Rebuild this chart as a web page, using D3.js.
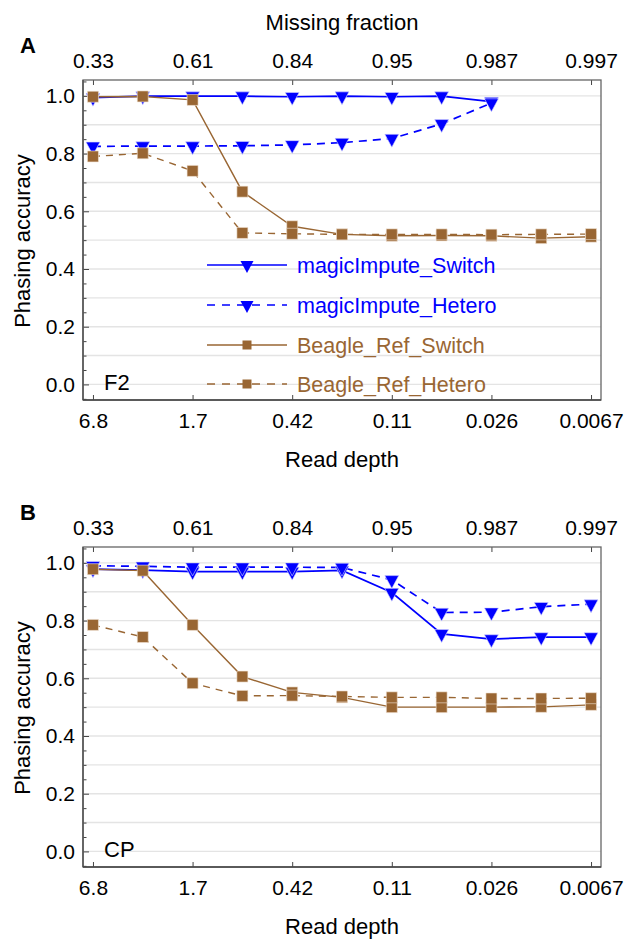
<!DOCTYPE html>
<html>
<head>
<meta charset="utf-8">
<script src="https://cdn.jsdelivr.net/npm/d3@7"></script>
<style>
  body { margin: 0; background: #fff; }
  svg { display: block; }
  text { font-family: "Liberation Sans", Arial, Helvetica, sans-serif; }
</style>
</head>
<body>
<svg id="chart" width="626" height="942"></svg>
<script>
// ---------- data ----------
const pointIndex = [0, 1, 2, 3, 4, 5, 6, 7, 8, 9, 10];
const tickIndex = [0, 2, 4, 6, 8, 10];
const readDepthLabels = ["6.8", "1.7", "0.42", "0.11", "0.026", "0.0067"];
const missingFractionLabels = ["0.33", "0.61", "0.84", "0.95", "0.987", "0.997"];
const yMajorTicks = [0, 0.2, 0.4, 0.6, 0.8, 1.0];
const seriesNames = ["magicImpute_Switch", "magicImpute_Hetero", "Beagle_Ref_Switch", "Beagle_Ref_Hetero"];

// Panel A (F2)
const f2MagicSwitch  = [0.994, 0.999, 0.999, 0.999, 0.997, 0.999, 0.997, 0.999, 0.980];
const f2MagicHetero  = [0.825, 0.826, 0.826, 0.827, 0.830, 0.838, 0.852, 0.903, 0.975];
const f2BeagleSwitch = [0.997, 0.998, 0.986, 0.668, 0.548, 0.520, 0.515, 0.516, 0.515, 0.507, 0.512];
const f2BeagleHetero = [0.790, 0.801, 0.740, 0.525, 0.522, 0.520, 0.520, 0.520, 0.519, 0.520, 0.521];

// Panel B (CP)
const cpMagicSwitch  = [0.978, 0.975, 0.970, 0.970, 0.970, 0.974, 0.897, 0.754, 0.736, 0.743, 0.743];
const cpMagicHetero  = [0.990, 0.988, 0.985, 0.985, 0.985, 0.984, 0.941, 0.828, 0.829, 0.848, 0.857];
const cpBeagleSwitch = [0.978, 0.973, 0.785, 0.606, 0.551, 0.534, 0.500, 0.500, 0.500, 0.501, 0.508];
const cpBeagleHetero = [0.785, 0.743, 0.583, 0.539, 0.540, 0.537, 0.534, 0.534, 0.530, 0.530, 0.531];

// ---------- styling ----------
const BLUE = "#0000ff";
const BROWN = "#996633";
const seriesStyle = [
  { color: BLUE,  dash: null,  marker: "tri", width: 1.7 },
  { color: BLUE,  dash: "8,6", marker: "tri", width: 1.7 },
  { color: BROWN, dash: null,  marker: "sq",  width: 1.4 },
  { color: BROWN, dash: "7,6", marker: "sq",  width: 1.4 }
];

const svg = d3.select("#chart");
const X0 = 83, X1 = 601;
const x = d3.scaleLinear().domain([-0.2, 10.2]).range([X0, X1]);

function markerPath(type, cx, cy, s) {
  if (type === "tri") {
    const w = s, h = s * 0.92;
    return `M${cx - w / 2},${cy - h / 3}L${cx + w / 2},${cy - h / 3}L${cx},${cy + 2 * h / 3}Z`;
  }
  return `M${cx - s / 2},${cy - s / 2}h${s}v${s}h${-s}Z`;
}

function drawPanel(offset, series, letter, tag, withTitle, legend) {
  const top = 80 + offset, bottom = 400 + offset;
  const y = d3.scaleLinear().domain([-0.054, 1.055]).range([bottom, top]);
  const g = svg.append("g");

  // gridlines
  const gridVals = d3.range(0, 11).map(d => d / 10);
  g.append("g").selectAll("line").data(gridVals).join("line")
    .attr("x1", X0).attr("x2", X1)
    .attr("y1", d => y(d)).attr("y2", d => y(d))
    .attr("stroke", "#e4e4e4").attr("stroke-width", 1.4);

  // minor y ticks
  const minorVals = d3.range(-1, 22).map(d => d * 0.05).filter(d => Math.abs(Math.round(d * 5) - d * 5) > 1e-6);
  const yMinor = g.append("g").attr("transform", `translate(${X0},0)`)
    .call(d3.axisLeft(y).tickValues(minorVals).tickSize(-3.5).tickFormat(""));
  yMinor.select(".domain").remove();
  yMinor.selectAll("line").attr("stroke", "#444");

  // major y ticks
  const yAx = g.append("g").attr("transform", `translate(${X0},0)`)
    .call(d3.axisLeft(y).tickValues(yMajorTicks).tickSize(-6).tickPadding(8).tickFormat(d3.format(".1f")));
  yAx.select(".domain").remove();
  yAx.selectAll("line").attr("stroke", "#444");
  yAx.selectAll("text").attr("font-size", 21).attr("fill", "#000")
    .attr("font-family", "Liberation Sans, Arial, sans-serif");

  // bottom axis
  const xb = g.append("g").attr("transform", `translate(0,${bottom})`)
    .call(d3.axisBottom(x).tickValues(tickIndex).tickSize(-5).tickPadding(13)
      .tickFormat((d, i) => readDepthLabels[i]));
  xb.select(".domain").remove();
  xb.selectAll("line").attr("stroke", "#444");
  xb.selectAll("text").attr("font-size", 21).attr("fill", "#000")
    .attr("font-family", "Liberation Sans, Arial, sans-serif");

  // top axis
  const xt = g.append("g").attr("transform", `translate(0,${top})`)
    .call(d3.axisTop(x).tickValues(tickIndex).tickSize(-5).tickPadding(12)
      .tickFormat((d, i) => missingFractionLabels[i]));
  xt.select(".domain").remove();
  xt.selectAll("line").attr("stroke", "#444");
  xt.selectAll("text").attr("font-size", 21).attr("fill", "#000")
    .attr("font-family", "Liberation Sans, Arial, sans-serif");

  // frame
  g.append("rect").attr("x", X0).attr("y", top).attr("width", X1 - X0).attr("height", bottom - top)
    .attr("fill", "none").attr("stroke", "#666").attr("stroke-width", 1.3);
  g.append("line").attr("x1", X0).attr("x2", X0).attr("y1", top).attr("y2", bottom)
    .attr("stroke", "#555").attr("stroke-width", 1.5);
  g.append("line").attr("x1", X0).attr("x2", X1).attr("y1", bottom).attr("y2", bottom)
    .attr("stroke", "#444").attr("stroke-width", 1.5);

  // lines
  const line = d3.line().x((d, i) => x(pointIndex[i])).y(d => y(d));
  series.forEach((vals, k) => {
    const st = seriesStyle[k];
    g.append("path").attr("d", line(vals)).attr("fill", "none")
      .attr("stroke", st.color).attr("stroke-width", st.width)
      .attr("stroke-dasharray", st.dash);
  });
  // markers
  series.forEach((vals, k) => {
    const st = seriesStyle[k];
    g.append("g").selectAll("path").data(vals).join("path")
      .attr("d", (d, i) => markerPath(st.marker, x(pointIndex[i]), y(d), st.marker === "tri" ? 14 : 11))
      .attr("fill", st.color)
      .attr("stroke", st.marker === "tri" ? "#d8d8ff" : "#f3e6d8").attr("stroke-width", 0.6);
  });

  // legend
  if (legend) {
    const rowsY = [265, 305, 345, 384].map(v => v + offset);
    seriesNames.forEach((name, k) => {
      const st = seriesStyle[k];
      const ly = rowsY[k];
      g.append("line").attr("x1", 207).attr("x2", 287).attr("y1", ly).attr("y2", ly)
        .attr("stroke", st.color).attr("stroke-width", st.width)
        .attr("stroke-dasharray", st.dash ? "8,7" : null);
      g.append("path").attr("d", markerPath(st.marker, 247, ly, st.marker === "tri" ? 13 : 9))
        .attr("fill", st.color);
      g.append("text").attr("x", 297).attr("y", ly).attr("dy", "0.35em")
        .attr("font-size", 21.5).attr("fill", st.color).text(name);
    });
  }

  // panel letter
  svg.append("text").attr("x", 20).attr("y", 53 + offset).attr("font-size", 22)
    .attr("font-weight", "bold").attr("fill", "#000").text(letter);
  // tag
  svg.append("text").attr("x", 104).attr("y", 390 + offset).attr("font-size", 22)
    .attr("fill", "#000").text(tag);
  // axis titles
  if (withTitle) {
    svg.append("text").attr("x", 342).attr("y", 30 + offset).attr("text-anchor", "middle")
      .attr("font-size", 22).attr("fill", "#000").text("Missing fraction");
  }
  svg.append("text").attr("x", 342).attr("y", 467 + offset).attr("text-anchor", "middle")
    .attr("font-size", 22).attr("fill", "#000").text("Read depth");
  svg.append("text").attr("transform", `translate(30,${241 + offset}) rotate(-90)`)
    .attr("text-anchor", "middle").attr("font-size", 22).attr("fill", "#000").text("Phasing accuracy");
}

drawPanel(0, [f2MagicSwitch, f2MagicHetero, f2BeagleSwitch, f2BeagleHetero], "A", "F2", true, true);
drawPanel(467, [cpMagicSwitch, cpMagicHetero, cpBeagleSwitch, cpBeagleHetero], "B", "CP", false, false);
</script>
</body>
</html>
